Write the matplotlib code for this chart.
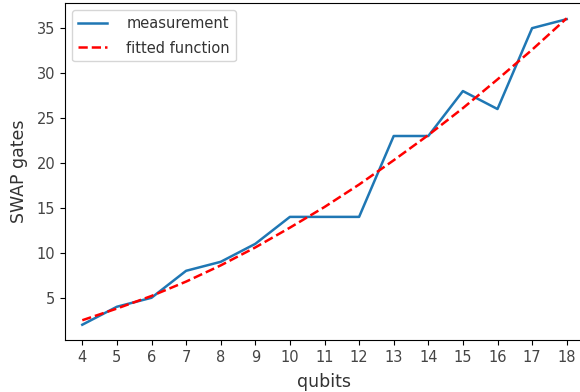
import matplotlib
matplotlib.use('Agg')
import matplotlib.pyplot as plt

# qubit counts and measured swap gates
qubits = [4, 5, 6, 7, 8, 9, 10, 11, 12, 13, 14, 15, 16, 17, 18]
swaps = [2, 4, 5, 8, 9, 11, 14, 14, 14, 23, 23, 28, 26, 35, 36]
# fitted curve values
fitted = [2.5, 3.8, 5.2, 6.8, 8.6, 10.6, 12.8, 15.1, 17.6, 20.3, 23.1, 26.1, 29.3, 32.6, 36.1]

plt.rcParams['font.family'] = ['DejaVu Sans']
plt.rcParams['text.color'] = '#333333'
plt.rcParams['xtick.labelcolor'] = '#444444'
plt.rcParams['ytick.labelcolor'] = '#444444'

fig = plt.figure(figsize=(5.8, 3.92), dpi=100)
# right edge of the axes runs off the picture, like the reference
ax = fig.add_axes([65 / 580, 1 - 340 / 392, 519 / 580, 337 / 392])

ax.plot(qubits, swaps, color='#1f77b4', linewidth=1.8, label='measurement')
ax.plot(qubits, fitted, color='red', linestyle='--', linewidth=1.8, label='fitted function')

ax.set_xlim(3.5, 18.5)
ax.set_ylim(0.3, 37.8)
ax.set_xticks(qubits)
ax.set_yticks([5, 10, 15, 20, 25, 30, 35])
ax.tick_params(labelsize=10.5)
ax.spines['right'].set_visible(False)

ax.set_xlabel('qubits', fontsize=12.5, color='#333333', labelpad=6)
ax.set_ylabel('SWAP gates', fontsize=12.5, color='#333333', labelpad=6)

ax.legend(loc='upper left', fontsize=10.5, handletextpad=1.3, labelspacing=0.65)

fig.savefig('out.png', dpi=100)
